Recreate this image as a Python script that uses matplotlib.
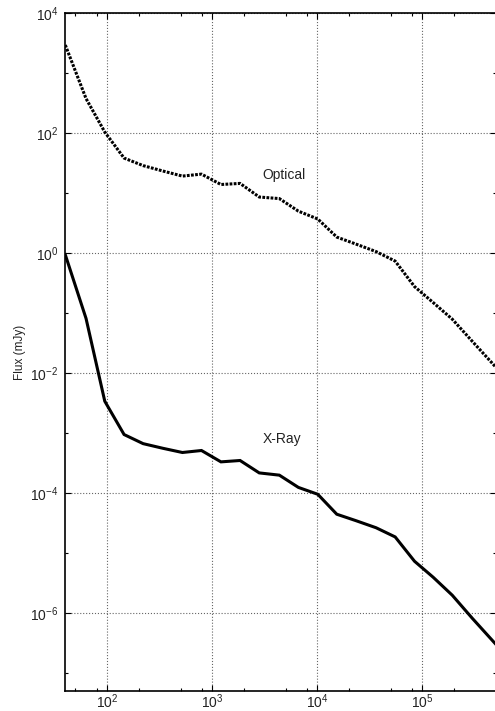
import matplotlib
matplotlib.use("Agg")
import matplotlib.pyplot as plt
from matplotlib.ticker import FixedLocator, LogLocator, LogFormatterSciNotation, NullFormatter

plt.rcParams['font.family'] = ['Liberation Sans', 'DejaVu Sans']
plt.rcParams['mathtext.fontset'] = 'custom'
plt.rcParams['mathtext.rm'] = 'Liberation Sans'
plt.rcParams['mathtext.it'] = 'Liberation Sans:italic'
plt.rcParams['mathtext.bf'] = 'Liberation Sans:bold'
plt.rcParams['axes.unicode_minus'] = False

# tiempo desde el disparo (s)
tiempo = [40, 63, 95, 145, 220, 340, 520, 790, 1210, 1840, 2800, 4350,
          6600, 10100, 15300, 23400, 36200, 55000, 84000, 126500, 192000,
          297000, 451000, 684000]

# flujo optico (mJy)
flujo_optico = [2930, 376, 104, 38.3, 28.7, 23.3, 19.2, 20.7, 13.9, 14.5,
                8.6, 8.1, 5.0, 3.7, 1.85, 1.41, 1.06, 0.736, 0.277, 0.150,
                0.0794, 0.0341, 0.0153, 0.0068]

# flujo en rayos X (mJy)
flujo_rx = [0.94, 0.0817, 0.00341, 9.5e-4, 6.7e-4, 5.6e-4, 4.77e-4, 5.15e-4,
            3.33e-4, 3.51e-4, 2.18e-4, 2.0e-4, 1.25e-4, 9.6e-5, 4.47e-5,
            3.48e-5, 2.66e-5, 1.87e-5, 7.36e-6, 3.98e-6, 2.0e-6, 8.3e-7,
            3.7e-7, 1.65e-7]

fig = plt.figure(figsize=(4.95, 7.11), dpi=100)
ax = fig.add_axes([0.1319, 0.0276, 0.870, 0.9541])

ax.plot(tiempo, flujo_optico, color='black', linewidth=2.2,
        linestyle=(0, (0.9, 0.45)), dash_capstyle='butt')
ax.plot(tiempo, flujo_rx, color='black', linewidth=2.2, solid_joinstyle='miter')

ax.set_xscale('log')
ax.set_yscale('log')
ax.set_xlim(40, 5e5)
ax.set_ylim(5e-8, 1e4)

ax.xaxis.set_major_locator(FixedLocator([1e2, 1e3, 1e4, 1e5]))
ax.xaxis.set_minor_locator(LogLocator(base=10, subs=(2, 5, 8)))
ax.xaxis.set_major_formatter(LogFormatterSciNotation())
ax.xaxis.set_minor_formatter(NullFormatter())

ax.yaxis.set_major_locator(FixedLocator([10.0 ** k for k in range(-6, 5, 2)]))
ax.yaxis.set_minor_locator(FixedLocator([10.0 ** k for k in range(-7, 4, 2)]))
ax.yaxis.set_major_formatter(LogFormatterSciNotation())
ax.yaxis.set_minor_formatter(NullFormatter())

ax.tick_params(which='both', direction='in', top=True, right=True,
               labelsize=10, width=0.8, labelcolor='#222222')
ax.tick_params(which='major', length=4)
ax.tick_params(which='minor', length=2.5)
ax.tick_params(axis='x', pad=1)
ax.tick_params(axis='y', pad=5)

for sp in ax.spines.values():
    sp.set_linewidth(1.2)

ax.grid(True, which='major', linestyle=':', color='0.4', linewidth=0.8)

ax.text(3000, 20, 'Optical', fontsize=10, ha='left', va='center', color='#222222')
ax.text(3000, 8e-4, 'X-Ray', fontsize=10, ha='left', va='center', color='#222222')

ax.set_ylabel('Flux (mJy)', fontsize=8.5, color='#222222')
ax.yaxis.set_label_coords(-0.092, 0.5)

fig.savefig('out.png', dpi=100)
